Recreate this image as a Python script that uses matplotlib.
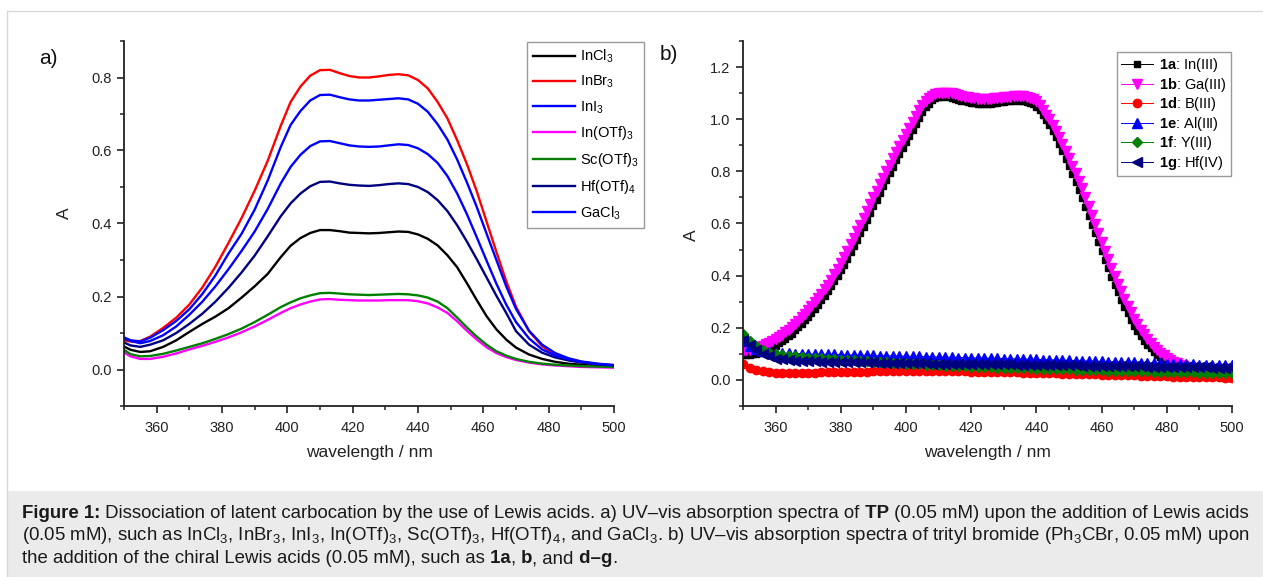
import numpy as np
import matplotlib
matplotlib.use('Agg')
import matplotlib.pyplot as plt
from matplotlib.ticker import MultipleLocator, FuncFormatter
from matplotlib.patches import Rectangle
from matplotlib.lines import Line2D

plt.rcParams['font.family'] = ['Liberation Sans', 'DejaVu Sans']
plt.rcParams['mathtext.fontset'] = 'custom'
plt.rcParams['mathtext.rm'] = 'Liberation Sans'
plt.rcParams['mathtext.bf'] = 'Liberation Sans:bold'
plt.rcParams['mathtext.default'] = 'regular'

# ---- panel a: UV-vis of TP with Lewis acids ----
wl_a = [350, 352, 355, 358, 362, 366, 370, 374, 378, 382, 386, 390, 394, 398,
        401, 404, 407, 410, 413, 416, 419, 422, 425, 428, 431, 434, 437, 440,
        443, 446, 449, 452, 455, 458, 461, 464, 467, 470, 474, 478, 482, 486,
        490, 495, 500]

incl3 = [0.063, 0.054, 0.048, 0.050, 0.062, 0.080, 0.103, 0.125, 0.145, 0.168,
         0.197, 0.228, 0.262, 0.308, 0.339, 0.360, 0.374, 0.382, 0.382, 0.379,
         0.375, 0.374, 0.373, 0.374, 0.376, 0.378, 0.377, 0.370, 0.358, 0.340,
         0.313, 0.280, 0.236, 0.190, 0.146, 0.110, 0.082, 0.060, 0.041, 0.029,
         0.021, 0.016, 0.013, 0.011, 0.010]
inbr3 = [0.080, 0.077, 0.078, 0.090, 0.114, 0.142, 0.178, 0.225, 0.282, 0.347,
         0.415, 0.490, 0.572, 0.668, 0.733, 0.775, 0.805, 0.820, 0.821, 0.812,
         0.804, 0.800, 0.800, 0.803, 0.807, 0.809, 0.806, 0.793, 0.770, 0.733,
         0.688, 0.628, 0.562, 0.488, 0.405, 0.322, 0.242, 0.172, 0.105, 0.064,
         0.040, 0.027, 0.020, 0.014, 0.011]
ini3 = [0.088, 0.080, 0.077, 0.087, 0.108, 0.133, 0.165, 0.207, 0.258, 0.318,
        0.372, 0.438, 0.518, 0.610, 0.670, 0.708, 0.737, 0.752, 0.753, 0.746,
        0.740, 0.737, 0.737, 0.739, 0.741, 0.743, 0.740, 0.728, 0.706, 0.672,
        0.630, 0.575, 0.512, 0.445, 0.372, 0.300, 0.228, 0.166, 0.106, 0.068,
        0.045, 0.031, 0.022, 0.016, 0.012]
inotf3 = [0.047, 0.036, 0.029, 0.029, 0.035, 0.044, 0.055, 0.065, 0.076, 0.088,
          0.102, 0.118, 0.136, 0.155, 0.168, 0.178, 0.186, 0.192, 0.193, 0.191,
          0.190, 0.189, 0.189, 0.189, 0.190, 0.190, 0.190, 0.187, 0.181, 0.170,
          0.155, 0.132, 0.106, 0.082, 0.061, 0.045, 0.034, 0.026, 0.019, 0.014,
          0.011, 0.009, 0.007, 0.006, 0.005]
scotf3 = [0.054, 0.042, 0.036, 0.037, 0.043, 0.052, 0.062, 0.072, 0.084, 0.097,
          0.112, 0.130, 0.150, 0.171, 0.184, 0.195, 0.203, 0.209, 0.210, 0.208,
          0.206, 0.205, 0.204, 0.205, 0.206, 0.207, 0.206, 0.203, 0.197, 0.186,
          0.168, 0.142, 0.115, 0.090, 0.068, 0.050, 0.038, 0.029, 0.021, 0.016,
          0.013, 0.011, 0.009, 0.008, 0.007]
hfotf4 = [0.074, 0.066, 0.062, 0.068, 0.080, 0.100, 0.125, 0.153, 0.186, 0.224,
          0.266, 0.312, 0.365, 0.420, 0.455, 0.482, 0.502, 0.514, 0.515, 0.510,
          0.506, 0.504, 0.503, 0.505, 0.508, 0.510, 0.508, 0.500, 0.486, 0.464,
          0.434, 0.395, 0.350, 0.302, 0.252, 0.202, 0.155, 0.105, 0.068, 0.046,
          0.033, 0.025, 0.019, 0.014, 0.011]
gacl3 = [0.086, 0.078, 0.072, 0.078, 0.094, 0.118, 0.150, 0.186, 0.228, 0.275,
         0.325, 0.378, 0.440, 0.510, 0.555, 0.588, 0.612, 0.625, 0.626, 0.620,
         0.614, 0.611, 0.610, 0.611, 0.614, 0.617, 0.615, 0.606, 0.590, 0.566,
         0.530, 0.482, 0.425, 0.362, 0.298, 0.235, 0.178, 0.130, 0.085, 0.055,
         0.038, 0.028, 0.021, 0.015, 0.012]

labels_a = ['InCl$_3$', 'InBr$_3$', 'InI$_3$', 'In(OTf)$_3$', 'Sc(OTf)$_3$',
            'Hf(OTf)$_4$', 'GaCl$_3$']
series_a = [incl3, inbr3, ini3, inotf3, scotf3, hfotf4, gacl3]
colors_a = ['#000000', '#ff0000', '#0000ff', '#ff00ff', '#008000', '#000080', '#0000ff']

# ---- panel b: trityl bromide with chiral Lewis acids ----
# 1a and 1b read every 1 nm, the flat ones every 2 nm
wl_b1 = np.arange(350, 501, 1)
wl_b2 = np.arange(350, 501, 2)

a1 = [0.095, 0.095, 0.096, 0.098, 0.100, 0.103, 0.107, 0.112, 0.118, 0.125,
      0.132, 0.140, 0.148, 0.157, 0.167, 0.178, 0.190, 0.202, 0.215, 0.229,
      0.243, 0.258, 0.273, 0.289, 0.305, 0.322, 0.340, 0.359, 0.378, 0.399,
      0.420, 0.442, 0.465, 0.489, 0.513, 0.538, 0.563, 0.588, 0.614, 0.640,
      0.666, 0.691, 0.717, 0.742, 0.767, 0.792, 0.817, 0.842, 0.866, 0.890,
      0.913, 0.937, 0.960, 0.983, 1.005, 1.026, 1.045, 1.060, 1.072, 1.080,
      1.085, 1.087, 1.088, 1.086, 1.083, 1.079, 1.075, 1.071, 1.068, 1.065,
      1.063, 1.061, 1.060, 1.059, 1.059, 1.059, 1.060, 1.061, 1.063, 1.065,
      1.067, 1.069, 1.070, 1.071, 1.072, 1.071, 1.070, 1.067, 1.063, 1.057,
      1.048, 1.034, 1.015, 0.997, 0.978, 0.955, 0.930, 0.904, 0.877, 0.849,
      0.820, 0.790, 0.760, 0.729, 0.697, 0.664, 0.630, 0.596, 0.562, 0.528,
      0.494, 0.461, 0.428, 0.396, 0.365, 0.336, 0.307, 0.281, 0.255, 0.231,
      0.208, 0.188, 0.168, 0.151, 0.135, 0.121, 0.108, 0.097, 0.087, 0.078,
      0.070, 0.064, 0.058, 0.053, 0.049, 0.045, 0.042, 0.039, 0.037, 0.035,
      0.033, 0.031, 0.030, 0.029, 0.028, 0.027, 0.026, 0.025, 0.025, 0.024,
      0.024]
b1 = [0.112, 0.113, 0.115, 0.118, 0.121, 0.125, 0.130, 0.136, 0.142, 0.149,
      0.156, 0.164, 0.172, 0.182, 0.192, 0.203, 0.214, 0.227, 0.240, 0.254,
      0.268, 0.283, 0.298, 0.314, 0.330, 0.347, 0.365, 0.385, 0.405, 0.427,
      0.450, 0.473, 0.496, 0.520, 0.545, 0.570, 0.596, 0.622, 0.648, 0.674,
      0.700, 0.725, 0.750, 0.775, 0.800, 0.825, 0.850, 0.874, 0.898, 0.922,
      0.945, 0.968, 0.990, 1.013, 1.035, 1.054, 1.070, 1.081, 1.090, 1.096,
      1.100, 1.102, 1.102, 1.101, 1.099, 1.096, 1.093, 1.090, 1.087, 1.084,
      1.082, 1.080, 1.079, 1.078, 1.078, 1.078, 1.079, 1.080, 1.081, 1.082,
      1.084, 1.086, 1.087, 1.088, 1.089, 1.089, 1.088, 1.086, 1.083, 1.077,
      1.068, 1.054, 1.035, 1.018, 1.000, 0.978, 0.955, 0.930, 0.905, 0.878,
      0.850, 0.821, 0.792, 0.764, 0.735, 0.702, 0.668, 0.634, 0.600, 0.565,
      0.530, 0.496, 0.462, 0.430, 0.398, 0.369, 0.340, 0.312, 0.285, 0.260,
      0.235, 0.213, 0.192, 0.175, 0.158, 0.143, 0.128, 0.116, 0.104, 0.094,
      0.085, 0.077, 0.070, 0.064, 0.058, 0.053, 0.048, 0.044, 0.040, 0.036,
      0.033, 0.030, 0.027, 0.024, 0.022, 0.019, 0.017, 0.015, 0.013, 0.011,
      0.010]
d1 = [0.060, 0.046, 0.038, 0.033, 0.030, 0.028, 0.027, 0.027, 0.027, 0.027,
      0.028, 0.028, 0.029, 0.029, 0.030, 0.030, 0.031, 0.031, 0.032, 0.032,
      0.033, 0.033, 0.033, 0.034, 0.034, 0.034, 0.034, 0.034, 0.034, 0.034,
      0.034, 0.034, 0.033, 0.033, 0.033, 0.032, 0.032, 0.031, 0.031, 0.030,
      0.030, 0.029, 0.029, 0.028, 0.028, 0.027, 0.026, 0.026, 0.025, 0.024,
      0.024, 0.023, 0.022, 0.022, 0.021, 0.020, 0.020, 0.019, 0.018, 0.018,
      0.017, 0.016, 0.016, 0.015, 0.015, 0.014, 0.013, 0.013, 0.012, 0.012,
      0.011, 0.011, 0.010, 0.010, 0.009, 0.009]
e1 = [0.150, 0.132, 0.120, 0.112, 0.107, 0.104, 0.103, 0.102, 0.101, 0.101,
      0.100, 0.099, 0.099, 0.098, 0.098, 0.097, 0.096, 0.096, 0.095, 0.095,
      0.094, 0.093, 0.093, 0.092, 0.092, 0.091, 0.090, 0.090, 0.089, 0.089,
      0.088, 0.087, 0.087, 0.086, 0.086, 0.085, 0.084, 0.084, 0.083, 0.083,
      0.082, 0.081, 0.081, 0.080, 0.080, 0.079, 0.078, 0.077, 0.077, 0.076,
      0.075, 0.074, 0.073, 0.073, 0.072, 0.071, 0.070, 0.069, 0.069, 0.068,
      0.067, 0.066, 0.065, 0.065, 0.064, 0.063, 0.062, 0.061, 0.061, 0.060,
      0.059, 0.058, 0.058, 0.057, 0.057, 0.056]
f1 = [0.175, 0.150, 0.130, 0.115, 0.105, 0.098, 0.094, 0.092, 0.090, 0.088,
      0.086, 0.085, 0.083, 0.082, 0.080, 0.078, 0.077, 0.075, 0.074, 0.072,
      0.070, 0.069, 0.067, 0.066, 0.064, 0.062, 0.061, 0.060, 0.059, 0.057,
      0.056, 0.055, 0.054, 0.053, 0.052, 0.050, 0.049, 0.049, 0.048, 0.047,
      0.046, 0.045, 0.045, 0.044, 0.044, 0.043, 0.042, 0.042, 0.041, 0.041,
      0.040, 0.039, 0.039, 0.038, 0.038, 0.037, 0.036, 0.036, 0.035, 0.035,
      0.034, 0.033, 0.033, 0.032, 0.032, 0.031, 0.030, 0.030, 0.029, 0.029,
      0.028, 0.027, 0.027, 0.026, 0.026, 0.025]
g1 = [0.155, 0.135, 0.115, 0.100, 0.090, 0.082, 0.079, 0.076, 0.074, 0.073,
      0.072, 0.071, 0.070, 0.070, 0.069, 0.069, 0.068, 0.068, 0.067, 0.067,
      0.067, 0.066, 0.066, 0.066, 0.065, 0.065, 0.065, 0.064, 0.064, 0.063,
      0.063, 0.063, 0.063, 0.062, 0.062, 0.062, 0.061, 0.061, 0.061, 0.060,
      0.060, 0.060, 0.059, 0.059, 0.058, 0.058, 0.058, 0.057, 0.057, 0.056,
      0.056, 0.056, 0.055, 0.055, 0.054, 0.054, 0.054, 0.053, 0.053, 0.052,
      0.052, 0.052, 0.051, 0.051, 0.050, 0.050, 0.050, 0.049, 0.049, 0.048,
      0.048, 0.048, 0.047, 0.047, 0.046, 0.046]

labels_b = [r'$\mathbf{1a}$: In(III)', r'$\mathbf{1b}$: Ga(III)', r'$\mathbf{1d}$: B(III)',
            r'$\mathbf{1e}$: Al(III)', r'$\mathbf{1f}$: Y(III)', r'$\mathbf{1g}$: Hf(IV)']
series_b = [a1, b1, d1, e1, f1, g1]
grids_b = [wl_b1, wl_b1, wl_b2, wl_b2, wl_b2, wl_b2]
colors_b = ['#000000', '#ff00ff', '#ff0000', '#0000ff', '#008000', '#000080']
markers_b = ['s', 'v', 'o', '^', 'D', '<']
msizes_b = [5, 7, 6, 7, 5.5, 7]

W, H = 1263, 577
fig = plt.figure(figsize=(W / 100, H / 100), dpi=100)

# page frame and caption box
fig.add_artist(Line2D([7 / W, 1], [1 - 11 / H, 1 - 11 / H], transform=fig.transFigure,
                      color='#d8d8d8', lw=1))
fig.add_artist(Line2D([7 / W, 7 / W], [0, 1 - 11 / H], transform=fig.transFigure,
                      color='#d8d8d8', lw=1))
fig.add_artist(Rectangle((7.5 / W, 0), 1, (H - 490.5) / H, transform=fig.transFigure,
                         facecolor='#ebebeb', edgecolor='none'))


def fmt(v, pos):
    return '%.1f' % (0.0 if abs(v) < 1e-9 else v)


def style(ax, ymax):
    for s in ['top', 'right']:
        ax.spines[s].set_visible(False)
    for s in ['left', 'bottom']:
        ax.spines[s].set_linewidth(1.3)
        ax.spines[s].set_color('#222222')
    ax.set_xlim(350, 500)
    ax.set_ylim(-0.1, ymax)
    ax.xaxis.set_major_locator(MultipleLocator(20))
    ax.xaxis.set_minor_locator(MultipleLocator(10))
    ax.yaxis.set_major_locator(MultipleLocator(0.2))
    ax.yaxis.set_minor_locator(MultipleLocator(0.1))
    ax.yaxis.set_major_formatter(FuncFormatter(fmt))
    ax.tick_params(which='major', direction='out', length=5, width=1.2,
                   color='#222222', labelsize=10.5, labelcolor='#222222', pad=4)
    ax.tick_params(axis='x', which='major', pad=6)
    ax.tick_params(which='minor', direction='out', length=3, width=1.1, color='#222222')
    ax.patch.set_alpha(0)


ax1 = fig.add_axes([124 / W, 1 - 406 / H, (614 - 124) / W, (406 - 41) / H])
style(ax1, 0.9)
for y, lab, c in zip(series_a, labels_a, colors_a):
    ax1.plot(wl_a, y, color=c, lw=1.7, label=lab)
ax1.legend(loc='upper left', bbox_to_anchor=(527 / W, 1 - 42 / H),
           bbox_transform=fig.transFigure, fontsize=10.5, frameon=True, fancybox=False,
           edgecolor='#999999', framealpha=1, handlelength=2.9, handletextpad=0.3,
           labelspacing=0.6, borderpad=0.4, borderaxespad=0)

ax2 = fig.add_axes([743 / W, 1 - 406 / H, (1232 - 743) / W, (406 - 41) / H])
style(ax2, 1.3)
for x, y, lab, c, m, ms in zip(grids_b, series_b, labels_b, colors_b, markers_b, msizes_b):
    ax2.plot(x, y, color=c, lw=0.7, marker=m, ms=ms, mec=c, mfc=c, label=lab)
ax2.legend(loc='upper left', bbox_to_anchor=(1117 / W, 1 - 52 / H),
           bbox_transform=fig.transFigure, fontsize=10.5, frameon=True, fancybox=False,
           edgecolor='#999999', framealpha=1, handlelength=2.2, handletextpad=0.4,
           labelspacing=0.1, borderpad=0.3, borderaxespad=0)

# panel letters and axis titles
fig.text(48 / W, 1 - 58 / H, 'a)', fontsize=15, ha='center', va='center', color='#111111')
fig.text(669 / W, 1 - 55 / H, 'b)', fontsize=15, ha='center', va='center', color='#111111')
fig.text(64 / W, 1 - 213 / H, 'A', fontsize=12.5, rotation=90, ha='center', va='center',
         color='#222222')
fig.text(691 / W, 1 - 235 / H, 'A', fontsize=12.5, rotation=90, ha='center', va='center',
         color='#222222')
fig.text(369 / W, 1 - 453 / H, 'wavelength / nm', fontsize=12.5, ha='center', va='center',
         color='#222222')
fig.text(987 / W, 1 - 453 / H, 'wavelength / nm', fontsize=12.5, ha='center', va='center',
         color='#222222')

# caption, written piece by piece so bold words sit inline
renderer = fig.canvas.get_renderer()


def caption_line(x_px, base_px, chunks, size=13.45):
    x = x_px
    for s, w in chunks:
        t = fig.text(x / W, 1 - base_px / H, s, fontsize=size, fontweight=w,
                     ha='left', va='baseline', color='#1a1a1a')
        x += t.get_window_extent(renderer).width


caption_line(22, 518, [
    ('Figure 1:', 'bold'),
    (' Dissociation of latent carbocation by the use of Lewis acids. a) UV\u2013vis absorption spectra of', 'normal'),
    (' TP', 'bold'),
    (' (0.05 mM) upon the addition of Lewis acids', 'normal')])
caption_line(22, 540.5, [
    ('(0.05 mM), such as InCl$_3$, InBr$_3$, InI$_3$, In(OTf)$_3$, Sc(OTf)$_3$, Hf(OTf)$_4$, '
     'and GaCl$_3$. b) UV\u2013vis absorption spectra of trityl bromide (Ph$_3$CBr, 0.05 mM) upon',
     'normal')])
caption_line(22, 563, [
    ('the addition of the chiral Lewis acids (0.05 mM), such as', 'normal'),
    (' 1a', 'bold'), (',', 'normal'), (' b', 'bold'), (', and', 'normal'),
    (' d\u2013g', 'bold'), ('.', 'normal')])

fig.savefig('out.png', dpi=100)
